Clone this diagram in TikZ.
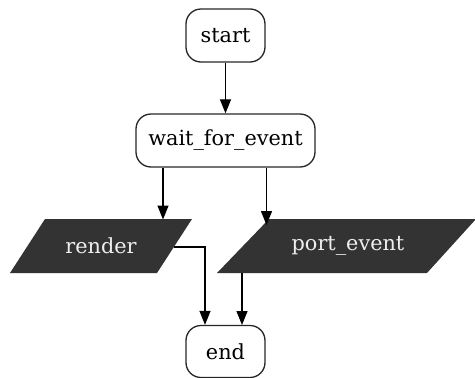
\documentclass[tikz,border=0pt]{standalone}
\usepackage{fontspec}
\setmainfont{DejaVu Serif}
\usetikzlibrary{arrows.meta,calc}
\definecolor{darkfill}{HTML}{333333}
\definecolor{lighttext}{HTML}{EEEEEE}
\begin{document}
\begin{tikzpicture}[x=1pt,y=-1pt,
  term/.style={draw=black!85,line width=1.3pt,rounded corners=15pt,minimum height=53pt,inner sep=0pt,font=\fontsize{20.8}{22}\selectfont},
  io/.style={draw=none,inner sep=0pt,minimum height=54pt,text=lighttext,font=\fontsize{20.8}{22}\selectfont},
  arr/.style={-{Triangle[length=14pt,width=11pt]},line width=1.2pt},
  ln/.style={line width=1.2pt}]
\useasboundingbox (0,0) rectangle (475,378);
\node[term,minimum width=79pt] (start) at (225.5,35.5) {start};
\node[term,minimum width=179pt] (wfe) at (225.5,140.5) {wait\_for\_event};
\node[term,minimum width=79pt,minimum height=52pt] (end) at (225.5,351.5) {end};
% render parallelogram
\fill[darkfill] (45,219) -- (192,219) -- (157,273) -- (10,273) -- cycle;
\node[io,minimum width=147pt] (render) at (101,246) {render};
% port_event parallelogram
\fill[darkfill] (269,219) -- (476,219) -- (427,273) -- (217,273) -- cycle;
\node[io,minimum width=160pt] (port) at (348,246) {port\_event};
\coordinate (rtip) at (163,219.5);
\coordinate (ptip) at (266.5,225);
\coordinate (rout) at (174,247);
\coordinate (rbend) at (205,247);
\draw[arr] (start) -- (wfe);
\draw[arr] (wfe.south -| rtip) -- (rtip);
\draw[arr] (wfe.south -| ptip) -- (ptip);
\draw[arr] (rout) -- (rbend) -- (rbend |- end.north);
\draw[arr] (242,273) -- (242,325);
\end{tikzpicture}
\end{document}
